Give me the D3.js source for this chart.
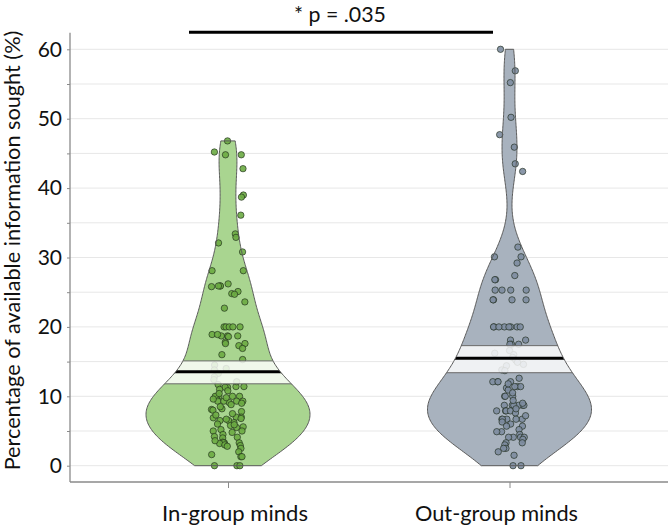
<!DOCTYPE html>
<html><head><meta charset="utf-8">
<script src="https://cdn.jsdelivr.net/npm/d3@7"></script>
<style>
body{margin:0;background:#fff}
svg{display:block}
text{font-family:Lato,"Open Sans",sans-serif;fill:#111}
</style>
</head><body>
<svg id="c" width="668" height="528"></svg>
<script>
// ---------- data ----------
const categories = ["In-group minds", "Out-group minds"];

const inGroup = [
  46.8, 45.2, 44.8, 44.8, 42.8, 39.0, 38.7, 36.1, 33.4, 32.9, 32.1, 30.8,
  28.1, 28.1, 26.2, 25.8, 25.9, 25.9, 25.9, 24.8, 25.1, 24.7, 23.6, 22.7,
  20, 20, 20, 20, 20,
  18.7, 18.7, 18.7, 18.9, 18.9, 18.6,
  17.8, 17.6, 17.6, 17.3, 16.9, 16.0, 15.3,
  14.5, 14.0, 13.8, 13.3, 12.8, 12.4,
  11.4, 11.4, 11.3, 11.3, 10.8, 11.7, 12.1, 11.0,
  10, 10, 10, 10, 10, 10.4,
  9.3, 9.3, 9.1, 9.3, 9.0, 9.3, 9.6, 9.8,
  8.1, 8.2, 8.0, 7.8, 8.5, 8.8,
  7.0, 6.9, 7.0, 6.5, 6.5, 6.8, 7.3, 7.5, 6.2, 6.7,
  6.0, 5.8, 5.6, 5.5, 5.9, 5.2,
  5.0, 5.0, 4.5, 4.8,
  4.2, 4.0, 4.1,
  3.4, 3.3, 3.3, 3.3, 3.2, 3.0, 3.6,
  2.8, 2.9, 2.5, 2.0,
  1.3, 1.6, 1.3,
  0, 0, 0
];

const outGroup = [
  60, 56.9, 55.2, 50.2, 47.7, 45.9, 43.5, 42.4, 31.5, 30.1, 30.1,
  29.2, 27.4, 26.8, 26.8, 25.3, 25.3, 25.3, 25.3, 23.9, 23.9, 23.9, 23.9,
  20, 20, 20, 20, 20, 20, 20, 20,
  18.1, 18.1, 17.5, 17.5, 17.5,
  16.6, 16.2, 16.0, 15.6, 15.2, 14.9, 14.6, 14.4,
  13.8, 13.7, 12.6,
  12.1, 12.1, 12.1, 12.1, 11.2, 11.4, 11.4, 11.4, 10.9, 11.8,
  10, 10, 10, 10.5,
  8.7, 8.7, 8.7, 8.7, 8.7, 8.7, 7.9, 7.9, 7.9, 7.9, 7.6, 8.2, 9.0, 9.4,
  6.7, 6.7, 6.7, 6.7, 6.7, 7.2, 6.0, 6.3,
  5.7, 5.7, 4.9, 4.9, 5.2, 4.5,
  4.1, 4.1, 4.1, 4.1, 3.8,
  3.3, 3.3, 3.0, 2.5, 2.5, 2.0, 1.5,
  0, 0
];

const groupValues = [inGroup, outGroup];
const groupMeans = [13.55, 15.5];
const ciLow = [11.8, 13.4];
const ciHigh = [15.1, 17.3];

const yTickValues = [0, 5, 10, 15, 20, 25, 30, 35, 40, 45, 50, 55, 60];
const yAxisTitle = "Percentage of available information sought (%)";
const sigLabel = "* p = .035";

// ---------- styles ----------
const beanFill = ["#a9d590", "#a8b2be"];
const pointFill = ["#6bab43", "#7d8ca0"];

// ---------- setup ----------
const svg = d3.select("#c");
const y = d3.scaleLinear().domain([0, 60]).range([465.7, 49.3]);
const x = d3.scalePoint().domain(categories).range([228, 509.5]);
const plotLeft = 70, plotRight = 668, axisY = 482;

function fitFont(sel, target, base) {
  const n = sel.node();
  const w = n.getComputedTextLength();
  sel.style("font-size", (base * target / w).toFixed(2) + "px");
}

// gridlines
svg.append("g").selectAll("line").data(yTickValues).join("line")
  .attr("x1", plotLeft).attr("x2", plotRight)
  .attr("y1", d => y(d)).attr("y2", d => y(d))
  .attr("stroke", "#e7e7e7").attr("stroke-width", 1);

// KDE
function nrd0(v) {
  const s = v.slice().sort(d3.ascending);
  const sd = d3.deviation(s);
  const iqr = d3.quantile(s, 0.75) - d3.quantile(s, 0.25);
  return 0.9 * Math.min(sd, iqr / 1.34) * Math.pow(s.length, -0.2);
}
function kde(vals, bw, t) {
  return d3.mean(vals, v => Math.exp(-0.5 * ((t - v) / bw) ** 2)) / (bw * Math.sqrt(2 * Math.PI));
}

const defs = svg.append("defs");

categories.forEach((cat, i) => {
  const vals = groupValues[i];
  const cx = x(cat);
  const bw = nrd0(vals);
  const lo = d3.min(vals), hi = d3.max(vals);
  const grid = d3.range(lo, hi, 0.2).concat([hi]);
  const dens = grid.map(t => [t, kde(vals, bw, t)]);
  const w = d3.scaleLinear().domain([0, d3.max(dens, d => d[1])]).range([0, 82]);
  const area = d3.area()
    .y(d => y(d[0]))
    .x0(d => cx - w(d[1]))
    .x1(d => cx + w(d[1]));
  const pathD = area(dens);

  defs.append("clipPath").attr("id", "clip" + i).append("path").attr("d", pathD);

  const g = svg.append("g");
  g.append("path").attr("d", pathD).attr("fill", beanFill[i]).attr("stroke", "none");

  // points (deterministic jitter)
  const rnd = d3.randomUniform.source(d3.randomLcg(0.17 + i * 0.31))(-17, 17);
  g.append("g").selectAll("circle").data(vals).join("circle")
    .attr("cx", () => cx + rnd())
    .attr("cy", d => y(d))
    .attr("r", 3.2)
    .attr("fill", pointFill[i])
    .attr("fill-opacity", 0.9)
    .attr("stroke", "#1e2a1a")
    .attr("stroke-opacity", 0.8)
    .attr("stroke-width", 0.8);

  // inference band
  g.append("rect")
    .attr("clip-path", `url(#clip${i})`)
    .attr("x", cx - 100).attr("width", 200)
    .attr("y", y(ciHigh[i])).attr("height", y(ciLow[i]) - y(ciHigh[i]))
    .attr("fill", "#ffffff").attr("fill-opacity", 0.82)
    .attr("stroke", "#6a6a6a").attr("stroke-width", 1);

  // mean line
  g.append("line")
    .attr("clip-path", `url(#clip${i})`)
    .attr("x1", cx - 100).attr("x2", cx + 100)
    .attr("y1", y(groupMeans[i])).attr("y2", y(groupMeans[i]))
    .attr("stroke", "#000").attr("stroke-width", 3);

  // bean outline
  g.append("path").attr("d", pathD).attr("fill", "none")
    .attr("stroke", "#5a5a5a").attr("stroke-width", 1);
});

// y axis
const yAxis = d3.axisLeft(y).tickValues(yTickValues).tickSize(3).tickPadding(5)
  .tickFormat(d => d % 10 === 0 ? d : "");
const yg = svg.append("g").attr("transform", `translate(${plotLeft},0)`).call(yAxis);
yg.select(".domain").remove();
yg.selectAll(".tick line").attr("stroke", "#8a8a8a");
yg.selectAll(".tick text").style("font-size", "21px").attr("fill", "#111")
  .style("font-family", "Lato, 'Open Sans', sans-serif");
svg.append("line").attr("x1", plotLeft).attr("x2", plotLeft)
  .attr("y1", y(62.4)).attr("y2", axisY)
  .attr("stroke", "#8a8a8a").attr("stroke-width", 1.3);

// x axis
const xAxis = d3.axisBottom(x).tickSize(6).tickFormat("");
const xg = svg.append("g").attr("transform", `translate(0,${axisY})`).call(xAxis);
xg.select(".domain").remove();
xg.selectAll(".tick line").attr("stroke", "#8a8a8a");
svg.append("line").attr("x1", plotLeft).attr("x2", plotRight)
  .attr("y1", axisY).attr("y2", axisY)
  .attr("stroke", "#8a8a8a").attr("stroke-width", 1.3);

const labelShift = [7, -13];
const labelWidth = [146, 163];
categories.forEach((cat, i) => {
  const t = svg.append("text")
    .attr("x", x(cat) + labelShift[i]).attr("y", 521)
    .attr("text-anchor", "middle")
    .style("font-size", "20px")
    .text(cat);
  fitFont(t, labelWidth[i], 20);
});

// y title
const yt = svg.append("text")
  .attr("transform", "translate(19.5,250.5) rotate(-90)")
  .attr("text-anchor", "middle")
  .style("font-size", "20px")
  .text(yAxisTitle);
fitFont(yt, 440, 20);

// significance annotation
svg.append("line")
  .attr("x1", 189).attr("x2", 493).attr("y1", 32.3).attr("y2", 32.3)
  .attr("stroke", "#000").attr("stroke-width", 3);
const st = svg.append("text")
  .attr("x", 340).attr("y", 22)
  .attr("text-anchor", "middle")
  .style("font-size", "20px")
  .text(sigLabel);
fitFont(st, 92, 20);
</script>
</body></html>
